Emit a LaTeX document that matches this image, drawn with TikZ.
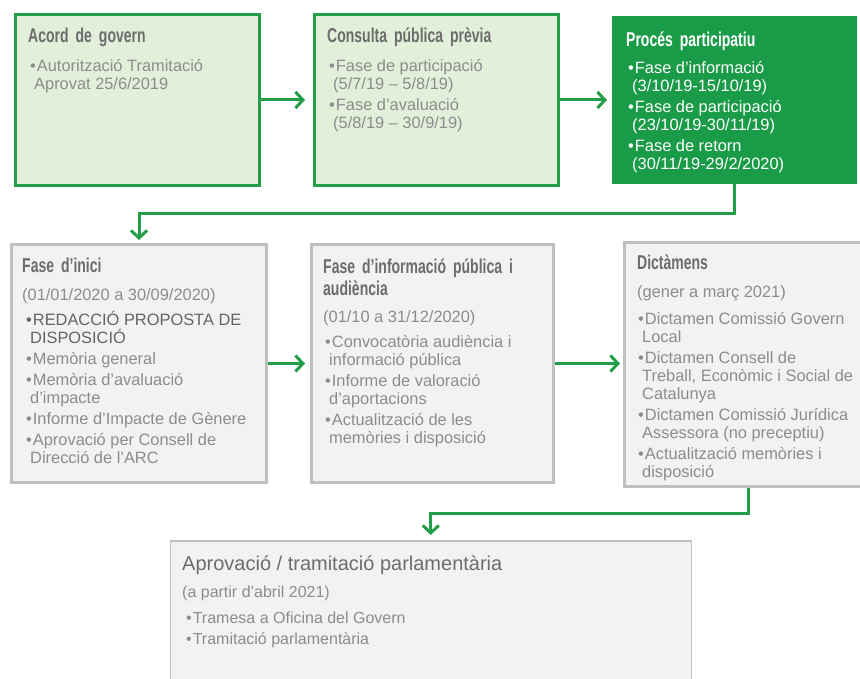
\documentclass[tikz,border=0pt]{standalone}
\usepackage{fontspec}
\setmainfont{Liberation Sans}
\newfontfamily\ttlfont[FakeStretch=0.70,WordSpace=1.8]{Liberation Sans}
\usetikzlibrary{arrows.meta}
\definecolor{gline}{RGB}{33,158,72}
\definecolor{gdark}{RGB}{26,155,72}
\definecolor{gfill}{RGB}{226,239,218}
\definecolor{grayline}{RGB}{191,191,191}
\definecolor{grayfill}{RGB}{242,242,242}
\definecolor{ttltext}{RGB}{108,108,108}
\definecolor{bodytext}{RGB}{140,140,140}
\definecolor{darktext}{RGB}{100,100,100}
\newcommand\mybul{\textbullet\hspace{1pt}}
\newcommand\myind{\hspace*{4pt}}
\tikzset{
  gbox/.style={draw=gline, line width=3pt, outer sep=1.5pt, fill=gfill, inner sep=0, anchor=north west},
  dbox/.style={fill=gdark, outer sep=0, inner sep=0, anchor=north west},
  graybox/.style={draw=grayline, line width=3pt, outer sep=1.5pt, fill=grayfill, inner sep=0, anchor=north west},
  lastbox/.style={draw=grayline, line width=1.5pt, outer sep=0.75pt, fill=grayfill, inner sep=0, anchor=north west},
  ttl/.style={anchor=base west, inner sep=0, font=\ttlfont\bfseries\fontsize{20}{22}\selectfont, text=ttltext},
  ttlml/.style={anchor=north west, inner sep=0, align=left, font=\ttlfont\bfseries\fontsize{20}{22}\selectfont, text=ttltext},
  datetxt/.style={anchor=base west, inner sep=0, font=\fontsize{16.4}{18}\selectfont, text=bodytext},
  body/.style={anchor=north west, inner sep=0, align=left, font=\fontsize{16.4}{18}\selectfont, text=bodytext},
  arr/.style={draw=gline, line width=3pt, -{Straight Barb[length=7.5pt,width=16pt]}},
}
\begin{document}
\begin{tikzpicture}[x=1pt,y=-1pt]
\clip (0,0) rectangle (860,679);
\fill[white] (0,0) rectangle (860,679);
% row 1
\node[gbox, minimum width=244pt, minimum height=171pt] (b1) at (14,13) {};
\node[gbox, minimum width=244pt, minimum height=171pt] (b2) at (313,13) {};
\node[dbox, minimum width=245pt, minimum height=168pt] (b3) at (612,16) {};
% row 2
\node[graybox, minimum width=255pt, minimum height=238pt] (b4) at (10,243) {};
\node[graybox, minimum width=242pt, minimum height=238pt] (b5) at (310,243) {};
\node[graybox, minimum width=260pt, minimum height=244pt] (b6) at (623,241) {};
% row 3
\node[lastbox, minimum width=521pt, minimum height=170pt] (b7) at (169.5,540) {};

% texts box 1
\node[ttl] (t1) at (28,43) {Acord de govern};
\node[body] (x1) at (30,56) {\rule{0pt}{15pt}\mybul Autorització Tramitació\\\myind Aprovat 25/6/2019};
% box 2
\node[ttl] (t2) at (327,43) {Consulta pública prèvia};
\node[body] (x2) at (329,56) {\rule{0pt}{15pt}\mybul Fase de participació\\\myind(5/7/19 – 5/8/19)\\[3pt]\mybul Fase d’avaluació\\\myind(5/8/19 – 30/9/19)};
% box 3
\node[ttl, text=white] (t3) at (626,47) {Procés participatiu};
\node[body, text=white] (x3) at (628,58) {\rule{0pt}{15pt}\mybul Fase d’informació\\\myind(3/10/19-15/10/19)\\[3pt]\mybul Fase de participació\\\myind(23/10/19-30/11/19)\\[3pt]\mybul Fase de retorn\\\myind(30/11/19-29/2/2020)};
% box 4
\node[ttl] (t4) at (22,273) {Fase d’inici};
\node[datetxt] (d4) at (22,301) {(01/01/2020 a 30/09/2020)};
\node[body] (x4) at (26,310) {\rule{0pt}{15pt}\textcolor{darktext}{\mybul REDACCIÓ PROPOSTA DE}\\\textcolor{darktext}{\myind DISPOSICIÓ}\\[3pt]\mybul Memòria general\\[3pt]\mybul Memòria d’avaluació\\\myind d’impacte\\[3pt]\mybul Informe d’Impacte de Gènere\\[3pt]\mybul Aprovació per Consell de\\\myind Direcció de l’ARC};
% box 5
\node[ttlml] (t5) at (323,257) {\rule{0pt}{16pt}Fase d’informació pública i\\audiència};
\node[datetxt] (d5) at (323,323) {(01/10 a 31/12/2020)};
\node[body] (x5) at (325,332) {\rule{0pt}{15pt}\mybul Convocatòria audiència i\\\myind informació pública\\[3pt]\mybul Informe de valoració\\\myind d’aportacions\\[3pt]\mybul Actualització de les\\\myind memòries i disposició};
% box 6
\node[ttl] (t6) at (637,270) {Dictàmens};
\node[datetxt] (d6) at (637,298) {(gener a març 2021)};
\node[body] (x6) at (638,309) {\rule{0pt}{15pt}\mybul Dictamen Comissió Govern\\\myind Local\\[3pt]\mybul Dictamen Consell de\\\myind Treball, Econòmic i Social de\\\myind Catalunya\\[3pt]\mybul Dictamen Comissió Jurídica\\\myind Assessora (no preceptiu)\\[3pt]\mybul Actualització memòries i\\\myind disposició};
% box 7
\node[anchor=base west, inner sep=0, font=\fontsize{20}{24}\selectfont, text=ttltext] (t7) at (182,570) {Aprovació / tramitació parlamentària};
\node[datetxt, font=\fontsize{16}{18}\selectfont] (d7) at (182,597) {(a partir d’abril 2021)};
\node[body, font=\fontsize{16}{18}\selectfont] (x7) at (186,608) {\rule{0pt}{15pt}\mybul Tramesa a Oficina del Govern\\[3pt]\mybul Tramitació parlamentària};

% connectors
\coordinate (m1) at (0,214);
\coordinate (m2) at (0,513);
\draw[arr, shorten >=8pt] (b1.east) -- (b2.west |- b1.east);
\draw[arr, shorten >=5pt] (b2.east) -- (b3.west |- b2.east);
\draw[arr, shorten >=5pt] (b4.east) -- (b5.west |- b4.east);
\draw[arr, shorten >=3pt] (b5.east) -- (b6.west |- b5.east);
\draw[arr, shorten >=3pt] (b3.south) -- (b3.south |- m1) -| (b4.north);
\draw[arr, shorten >=5pt] ([xshift=-6pt]b6.south) -- ([xshift=-6pt]b6.south |- m2) -| (b7.north);
\end{tikzpicture}
\end{document}
